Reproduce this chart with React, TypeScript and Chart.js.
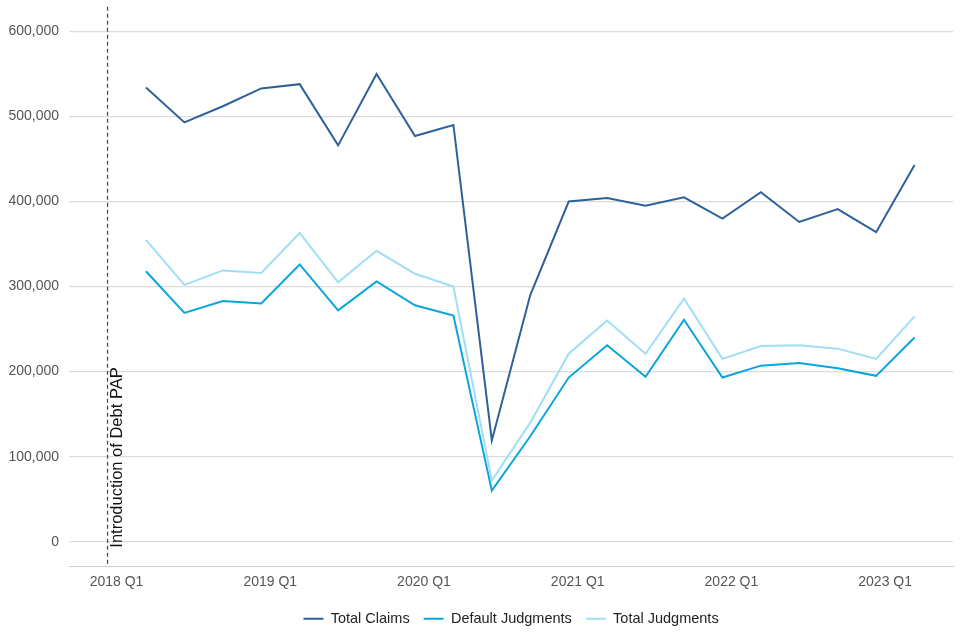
import React, { useEffect, useRef } from "react";
import { Chart, registerables } from "chart.js";

Chart.register(...registerables);

const quarters = [
  "", "2018 Q1", "2018 Q2", "2018 Q3", "2018 Q4",
  "2019 Q1", "2019 Q2", "2019 Q3", "2019 Q4",
  "2020 Q1", "2020 Q2", "2020 Q3", "2020 Q4",
  "2021 Q1", "2021 Q2", "2021 Q3", "2021 Q4",
  "2022 Q1", "2022 Q2", "2022 Q3", "2022 Q4",
  "2023 Q1", "2023 Q2", "",
];

const totalClaims = [
  null, null, 534000, 493000, 512000,
  533000, 538000, 466000, 550000,
  477000, 490000, 119000, 290000,
  400000, 404000, 395000, 405000,
  380000, 411000, 376000, 391000,
  364000, 443000, null,
];

const defaultJudgments = [
  null, null, 318000, 269000, 283000,
  280000, 326000, 272000, 306000,
  278000, 266000, 60000, 124000,
  193000, 231000, 194000, 261000,
  193000, 207000, 210000, 204000,
  195000, 240000, null,
];

const totalJudgments = [
  null, null, 355000, 302000, 319000,
  316000, 363000, 305000, 342000,
  315000, 300000, 72000, 140000,
  221000, 260000, 221000, 286000,
  215000, 230000, 231000, 227000,
  215000, 265000, null,
];

const yTicks = [0, 100000, 200000, 300000, 400000, 500000, 600000];
const markerCategory = "2018 Q1";
const markerLabel = "Introduction of Debt PAP";
const markerTopValue = 629000;

const FONT = "'Liberation Sans', Arial, Helvetica, sans-serif";

const markerPlugin = {
  id: "markerLine",
  afterLayout(chart: any) {
    // centre the legend under the plot area
    if (chart.legend) {
      chart.legend.left = chart.chartArea.left;
      chart.legend.right = chart.chartArea.right;
    }
  },
  afterDatasetsDraw(chart: any) {
    const x = chart.scales.x.getPixelForValue(quarters.indexOf(markerCategory));
    const ctx = chart.ctx;
    const area = chart.chartArea;
    ctx.save();
    ctx.strokeStyle = "#444444";
    ctx.lineWidth = 1.2;
    ctx.setLineDash([4, 3]);
    ctx.beginPath();
    ctx.moveTo(x, chart.scales.y.getPixelForValue(markerTopValue));
    ctx.lineTo(x, area.bottom);
    ctx.stroke();
    ctx.setLineDash([]);
    ctx.translate(x + 2, chart.scales.y.getPixelForValue(0) + 6);
    ctx.rotate(-Math.PI / 2);
    ctx.fillStyle = "#111111";
    ctx.font = `16.5px ${FONT}`;
    ctx.textAlign = "left";
    ctx.textBaseline = "top";
    ctx.fillText(markerLabel, 0, 0);
    ctx.restore();
  },
};

export default function App() {
  const ref = useRef<HTMLCanvasElement>(null);
  useEffect(() => {
    document.body.style.margin = "0";
    if (!ref.current) return;
    const chart = new Chart(ref.current, {
      type: "line",
      data: {
        labels: quarters,
        datasets: [
          {
            label: "Total Claims",
            data: totalClaims,
            borderColor: "#2e6199",
            backgroundColor: "#2e6199",
            borderWidth: 2,
            pointRadius: 0,
            tension: 0,
          },
          {
            label: "Default Judgments",
            data: defaultJudgments,
            borderColor: "#09a6dd",
            backgroundColor: "#09a6dd",
            borderWidth: 2,
            pointRadius: 0,
            tension: 0,
          },
          {
            label: "Total Judgments",
            data: totalJudgments,
            borderColor: "#9fdef4",
            backgroundColor: "#9fdef4",
            borderWidth: 2,
            pointRadius: 0,
            tension: 0,
          },
        ],
      },
      options: {
        animation: false,
        responsive: false,
        layout: { padding: { top: 0, right: -1, left: -1.5, bottom: 4 } },
        plugins: {
          legend: {
            position: "bottom",
            labels: {
              usePointStyle: true,
              pointStyle: "line",
              pointStyleWidth: 20,
              boxHeight: 2,
              color: "#222222",
              font: { family: FONT, size: 14.5 },
              padding: 14,
            },
          },
          tooltip: { enabled: false },
        },
        scales: {
          x: {
            type: "category",
            offset: false,
            grid: { display: false, drawTicks: false },
            border: { display: true, color: "#cccccc", width: 1 },
            ticks: {
              autoSkip: false,
              maxRotation: 0,
              labelOffset: 9,
              color: "#555555",
              font: { family: FONT, size: 14 },
              padding: 7,
              callback: (v: any) => {
                const l = quarters[v as number];
                return l && l.endsWith("Q1") ? l : "";
              },
            },
          },
          y: {
            min: -29400,
            max: 615300,
            afterBuildTicks: (axis: any) => {
              axis.ticks = yTicks.map((v) => ({ value: v }));
            },
            grid: { color: "#dcdcdc", lineWidth: 1.3, drawTicks: false },
            border: { display: false },
            ticks: {
              color: "#555555",
              font: { family: FONT, size: 14 },
              padding: 10,
              callback: (v: any) => Number(v).toLocaleString("en-GB"),
            },
          },
        },
      },
      plugins: [markerPlugin],
    });
    return () => chart.destroy();
  }, []);
  return (
    <div style={{ width: 960, height: 640 }}>
      <canvas ref={ref} width={960} height={640} style={{ width: 960, height: 640 }} />
    </div>
  );
}
